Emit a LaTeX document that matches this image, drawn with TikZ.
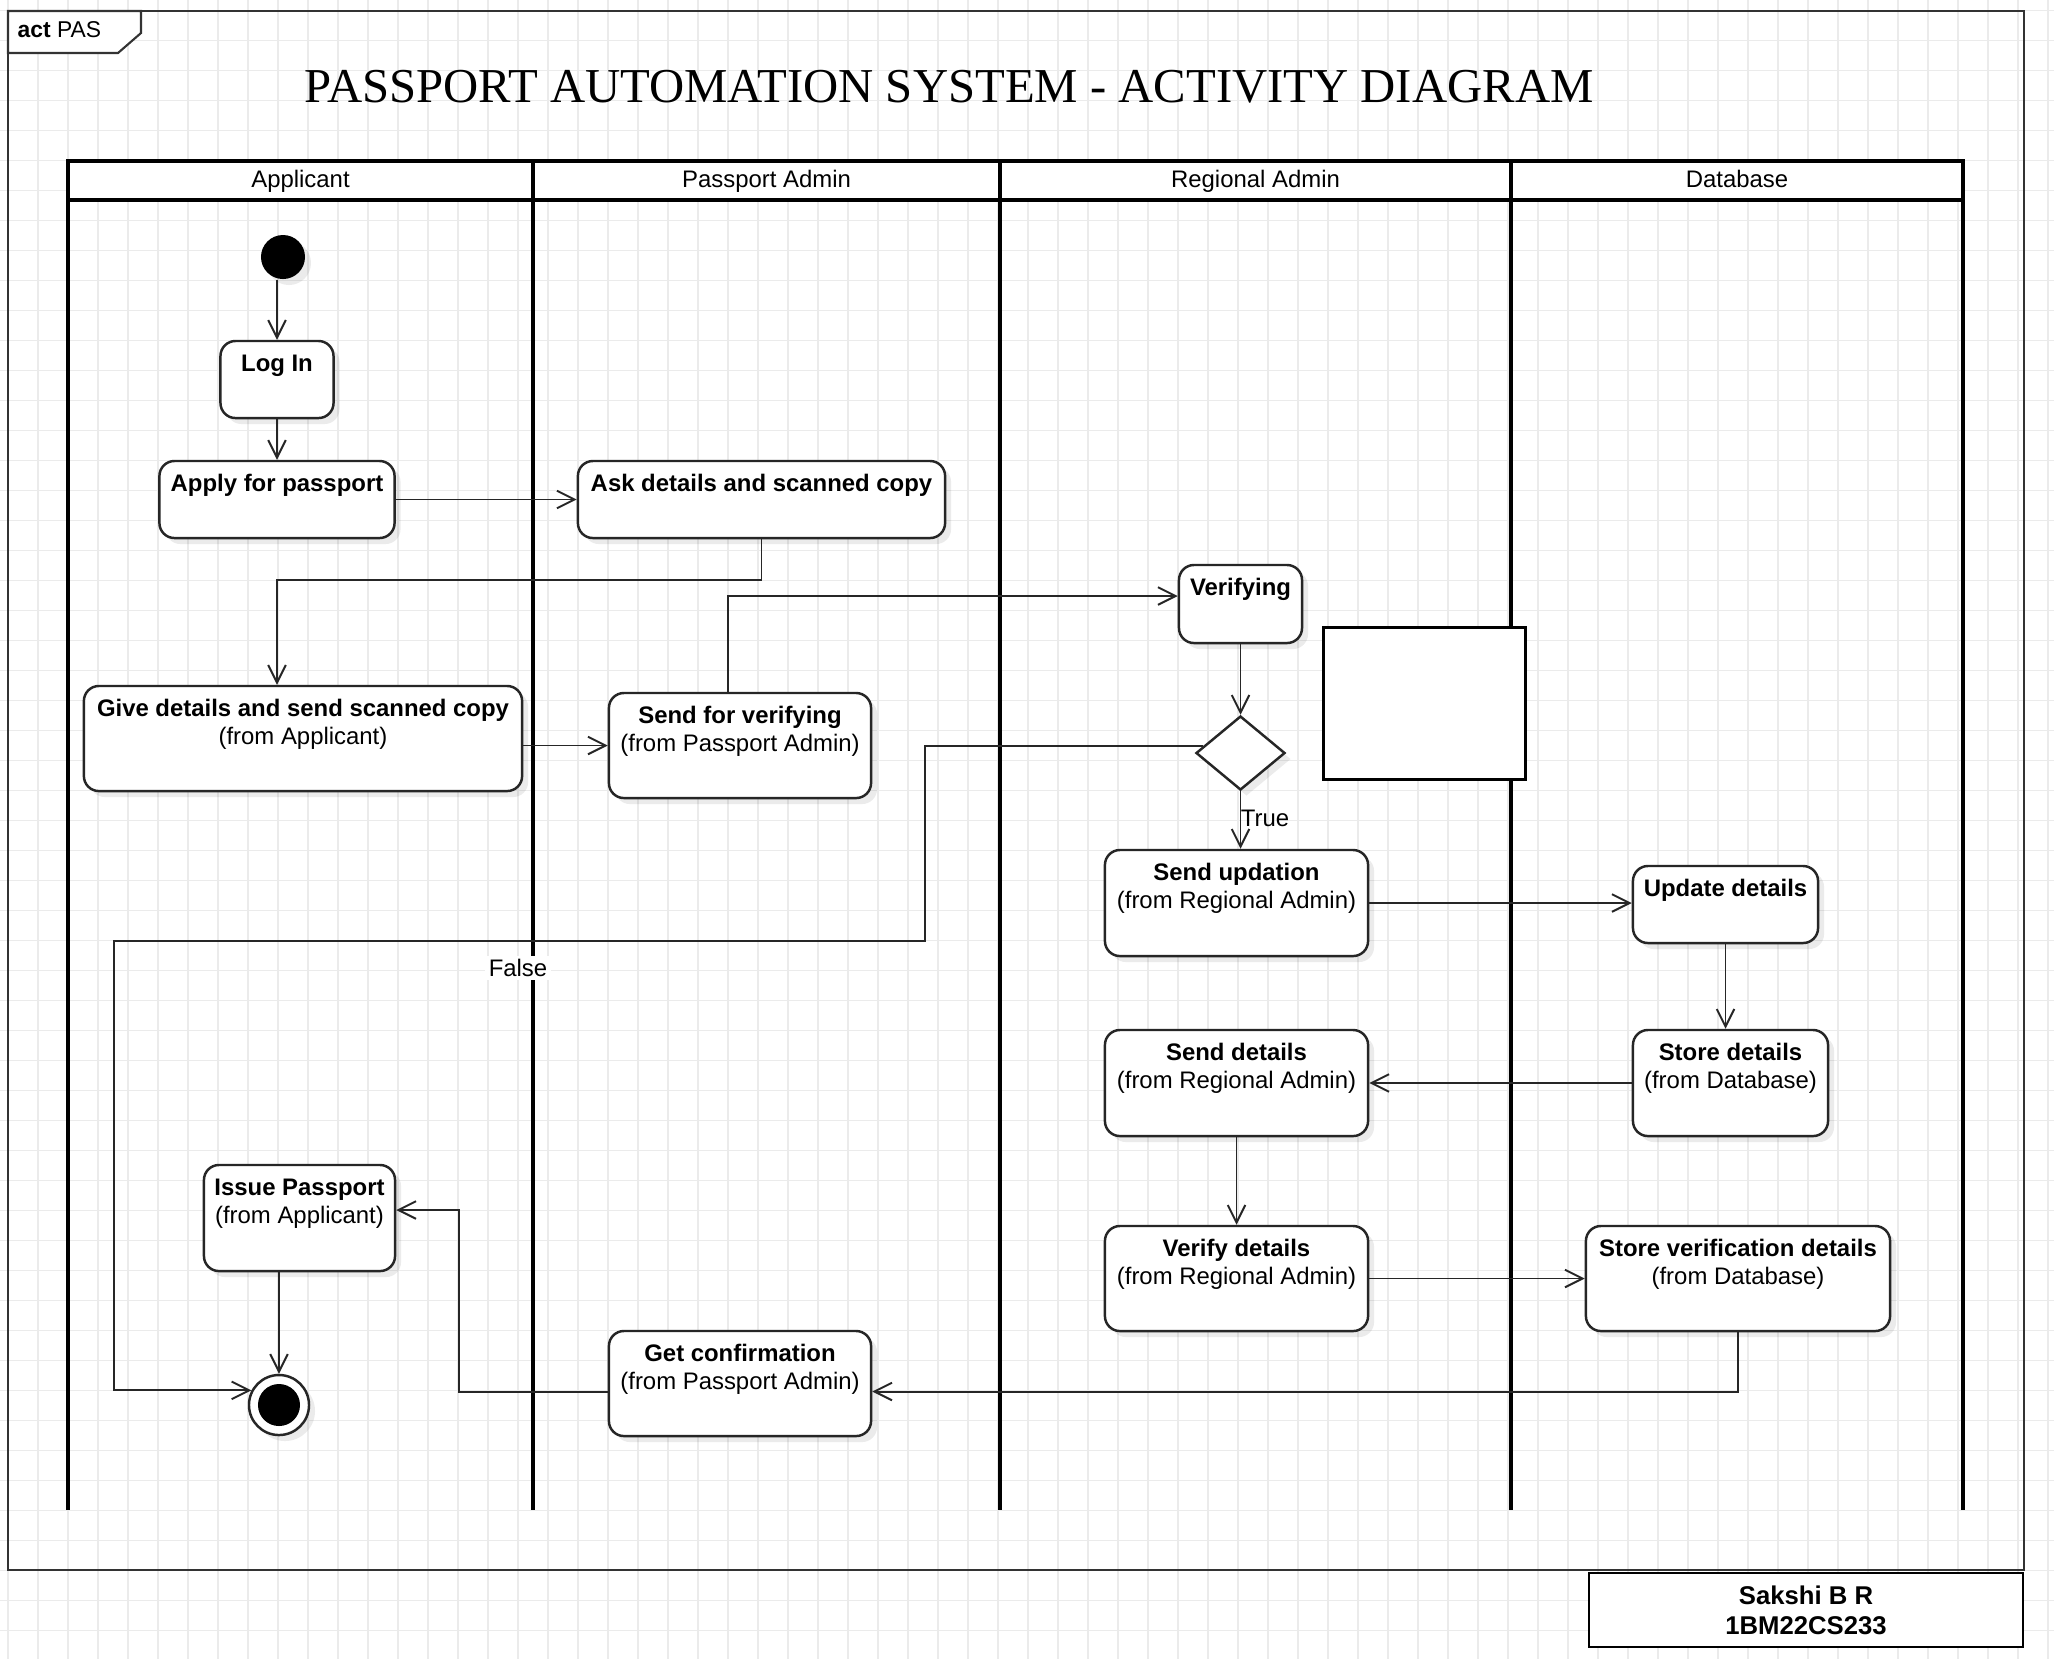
\documentclass[tikz,border=0pt]{standalone}
\usepackage{fontspec}
\setmainfont{Liberation Sans}
\newfontfamily\titlefont{Liberation Serif}
\usetikzlibrary{arrows.meta,shapes.geometric,shadows,calc}
\newcommand\acttext[3]{\parbox[c][#2][t]{#1}{\centering\rule{0pt}{0.30cm}#3}}
\tikzset{
  act/.style={draw=black!85, line width=0.7pt, fill=white, rounded corners=0.15cm, inner sep=0pt,
    drop shadow={shadow xshift=0.06cm, shadow yshift=-0.06cm, fill=black, opacity=0.08},
    font=\fontsize{6.8}{8}\selectfont},
  conn/.style={draw=black!85, line width=0.55pt, -{Straight Barb[length=5pt,width=5pt]}},
  lane/.style={line width=1.1pt, draw=black},
  gridline/.style={line width=0.4pt, draw=black!8},
  frameline/.style={line width=0.6pt, draw=black!80},
  lbl/.style={font=\fontsize{6.8}{8}\selectfont, inner sep=1pt},
  headlbl/.style={font=\fontsize{6.8}{8}\selectfont, inner sep=0pt, anchor=base},
  startnode/.style={circle, fill=black, minimum size=0.44cm, inner sep=0pt,
    drop shadow={shadow xshift=0.06cm, shadow yshift=-0.06cm, fill=black, opacity=0.08}},
  endnode/.style={circle, draw=black!85, line width=0.7pt, fill=white, minimum size=0.6cm, inner sep=0pt,
    drop shadow={shadow xshift=0.06cm, shadow yshift=-0.06cm, fill=black, opacity=0.08},
    path picture={\fill[black] (path picture bounding box.center) circle (0.21cm);}},
  decision/.style={diamond, draw=black!85, line width=0.7pt, fill=white, minimum width=0.89cm, minimum height=0.74cm, inner sep=0pt,
    drop shadow={shadow xshift=0.06cm, shadow yshift=-0.06cm, fill=black, opacity=0.08}}
}
\begin{document}
\begin{tikzpicture}[x=0.01cm, y=-0.01cm]
\useasboundingbox (0,0) rectangle (2054,1659);
\fill[white] (0,0) rectangle (2054,1659);
% grid
\foreach \gx in {8,38,...,2048} \draw[gridline] (\gx,0) -- (\gx,1659);
\foreach \gy in {10.7,40.7,...,1655} \draw[gridline] (0,\gy) -- (2054,\gy);
% frame
\draw[frameline] (8,11) rectangle (2024,1570);
\draw[frameline, fill=white] (8,11) -- (141,11) -- (141,33) -- (118,53) -- (8,53) -- cycle;
\node[anchor=base west, inner sep=0pt, font=\fontsize{6.5}{8}\selectfont] (tab) at (17,37) {\textbf{act} PAS};
% title
\node[font=\titlefont\fontsize{13.85}{16}\selectfont, inner sep=0pt] (title) at (949,87) {PASSPORT AUTOMATION SYSTEM - ACTIVITY DIAGRAM};
% swimlanes
\draw[lane, fill=white] (68,161) rectangle (1963,200);
\foreach \lx in {68,533,1000,1511,1963} \draw[lane] (\lx,161) -- (\lx,1510);
\node[headlbl] (h1) at (300.5,187) {Applicant};
\node[headlbl] (h2) at (766.5,187) {Passport Admin};
\node[headlbl] (h3) at (1255.5,187) {Regional Admin};
\node[headlbl] (h4) at (1737,187) {Database};
% nodes
\node[startnode] (init) at (283,257) {};
\node[act] (login) at (277,379.5) {\acttext{1.13cm}{0.77cm}{\textbf{Log In}}};
\node[act] (apply) at (277,499.5) {\acttext{2.35cm}{0.77cm}{\textbf{Apply for passport}}};
\node[act] (ask) at (761.5,499.5) {\acttext{3.67cm}{0.77cm}{\textbf{Ask details and scanned copy}}};
\node[act] (give) at (303,738.5) {\acttext{4.38cm}{1.05cm}{\textbf{Give details and send scanned copy}\\(from Applicant)}};
\node[act] (sendv) at (740,745.5) {\acttext{2.62cm}{1.05cm}{\textbf{Send for verifying}\\(from Passport Admin)}};
\node[act] (verif) at (1240.5,604) {\acttext{1.23cm}{0.78cm}{\textbf{Verifying}}};
\node[decision] (dia) at (1240.5,753) {};
\node[draw=black, line width=0.85pt, fill=white, minimum width=2.01cm, minimum height=1.51cm, inner sep=0pt] (blank) at (1424.5,703.5) {};
\node[act] (sendu) at (1236.5,903) {\acttext{2.63cm}{1.06cm}{\textbf{Send updation}\\(from Regional Admin)}};
\node[act] (upd) at (1725.5,904.5) {\acttext{1.85cm}{0.77cm}{\textbf{Update details}}};
\node[act] (stored) at (1730.5,1083) {\acttext{1.95cm}{1.06cm}{\textbf{Store details}\\(from Database)}};
\node[act] (sendd) at (1236.5,1083) {\acttext{2.63cm}{1.06cm}{\textbf{Send details}\\(from Regional Admin)}};
\node[act] (verd) at (1236.5,1278.5) {\acttext{2.63cm}{1.05cm}{\textbf{Verify details}\\(from Regional Admin)}};
\node[act] (storev) at (1738,1278.5) {\acttext{3.04cm}{1.05cm}{\textbf{Store verification details}\\(from Database)}};
\node[act] (getc) at (740,1383.5) {\acttext{2.62cm}{1.05cm}{\textbf{Get confirmation}\\(from Passport Admin)}};
\node[act] (issue) at (299.5,1218) {\acttext{1.91cm}{1.06cm}{\textbf{Issue Passport}\\(from Applicant)}};
\node[endnode] (final) at (279,1405) {};
% connectors
\draw[conn] (init.south -| login.north) -- (login.north);
\draw[conn] (login.south) -- (apply.north);
\draw[conn] (apply.east) -- (ask.west);
\draw[conn] (ask.south) -- (ask.south |- 0,580) -| (give.north -| login.south);
\draw[conn] (sendv.west -| give.east) -- (sendv.west);
\draw[conn] ($(sendv.north)+(-12,0)$) |- ($(verif.west)+(0,-8)$);
\draw[conn] (verif.south) -- (dia.north);
\draw[conn] ($(dia.west)+(8.4,-7)$) -| (925,941) -- (114,941) |- (final.152);
\draw[conn] (dia.south) -- (dia.south |- sendu.north);
\draw[conn] (sendu.east) -- (sendu.east -| upd.west);
\draw[conn] (upd.south) -- (upd.south |- stored.north);
\draw[conn] (stored.west) -- (sendd.east);
\draw[conn] (sendd.south) -- (verd.north);
\draw[conn] (verd.east) -- (verd.east -| storev.west);
\draw[conn] (storev.south) |- ($(getc.east)+(0,8)$);
\draw[conn] ($(getc.west)+(0,8)$) -| ($(issue.east)+(63,-8)$) -- ($(issue.east)+(0,-8)$);
\draw[conn] (issue.south -| final.north) -- (final.north);
% labels
\node[lbl] (tlbl) at (1265,818) {True};
\node[lbl, fill=white] (flbl) at (518,968) {False};
% signature
\node[draw=black, line width=0.6pt, fill=white, minimum width=4.34cm, minimum height=0.74cm, inner sep=0pt, align=center,
  font=\fontsize{7.3}{8.5}\selectfont\bfseries] (sig) at (1806,1610) {Sakshi B R\\1BM22CS233};
\end{tikzpicture}
\end{document}
